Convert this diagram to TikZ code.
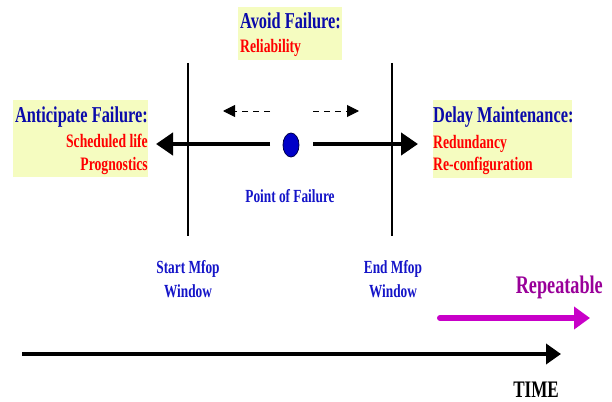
\documentclass[tikz,border=0pt]{standalone}
\usepackage{fontspec}
\setmainfont{Liberation Serif}[FakeStretch=0.72]
\usetikzlibrary{arrows.meta,shapes.geometric}
\definecolor{titleblue}{RGB}{10,10,170}
\definecolor{labelblue}{RGB}{20,20,200}
\definecolor{subred}{RGB}{255,0,0}
\definecolor{boxyellow}{RGB}{245,252,192}
\definecolor{reppurple}{RGB}{153,0,153}
\definecolor{repmagenta}{RGB}{200,0,200}
\definecolor{pofblue}{RGB}{0,0,200}
\begin{document}
\begin{tikzpicture}[x=1pt,y=-1pt,
  txt/.style={inner sep=0pt, font=\bfseries},
  title/.style={txt, text=titleblue, font=\bfseries\fontsize{22.7}{26}\selectfont},
  sub/.style={txt, text=subred, font=\bfseries\fontsize{19}{22}\selectfont},
  lbl/.style={txt, text=labelblue, font=\bfseries\fontsize{18.5}{21}\selectfont},
  ybox/.style={fill=boxyellow, draw=none, inner sep=0pt},
  window/.style={line width=1.4pt, black},
  dasharrow/.style={line width=1pt, dash pattern=on 6pt off 5pt, -{Triangle[length=12pt,width=12pt]}},
  thickarrow/.style={line width=4.5pt, -{Triangle[length=17pt,width=22pt]}},
]
\path[use as bounding box] (0,0) rectangle (612,401);

% yellow boxes
\node[ybox, minimum width=135pt, minimum height=77pt, anchor=north west] (antbox) at (13,100) {};
\node[ybox, minimum width=104pt, minimum height=53pt, anchor=north west] (avbox) at (238,7) {};
\node[ybox, minimum width=139pt, minimum height=78pt, anchor=north west] (delbox) at (433,100) {};

% box texts
\node[title, anchor=base east] (antt) at (148,122) {Anticipate Failure:};
\node[sub, anchor=base east] (ant1) at (148,147) {Scheduled life};
\node[sub, anchor=base east] (ant2) at (148,170) {Prognostics};

\node[title, anchor=base west] (avt) at (240,29) {Avoid Failure:};
\node[sub, anchor=base west] (av1) at (240,53) {Reliability};

\node[title, anchor=base west] (delt) at (433,122) {Delay Maintenance:};
\node[sub, anchor=base west] (del1) at (433,148) {Redundancy};
\node[sub, anchor=base west] (del2) at (433,170) {Re-configuration};

% window lines
\coordinate (ws1) at (188,63);
\coordinate (ws2) at (188,236);
\coordinate (we1) at (392,63);
\coordinate (we2) at (392,236);
\draw[window] (ws1) -- (ws2);
\draw[window] (we1) -- (we2);

% point of failure
\node[ellipse, minimum width=16pt, minimum height=24pt, inner sep=0pt, fill=pofblue, draw=black!70!blue, line width=0.8pt] (pof) at (291,145) {};
\node[lbl, anchor=base] (poft) at (290,202) {Point of Failure};

% dashed arrows
\coordinate (dl0) at (270,111);
\coordinate (dl1) at (223,111);
\coordinate (dr0) at (313,111);
\coordinate (dr1) at (359,111);
\draw[dasharrow] (dl0) -- (dl1);
\draw[dasharrow] (dr0) -- (dr1);

% thick arrows
\coordinate (tl0) at (270,144);
\coordinate (tl1) at (156,144);
\coordinate (tr0) at (313,144);
\coordinate (tr1) at (418,144);
\draw[thickarrow] (tl0) -- (tl1);
\draw[thickarrow] (tr0) -- (tr1);

% window labels
\node[lbl, anchor=base] (sm1) at (188,273) {Start Mfop};
\node[lbl, anchor=base] (sm2) at (188,297) {Window};
\node[lbl, anchor=base] (em1) at (393,273) {End Mfop};
\node[lbl, anchor=base] (em2) at (393,297) {Window};

% repeatable
\node[txt, text=reppurple, font=\bfseries\fontsize{25.3}{29}\selectfont, anchor=base east] (rep) at (603,293) {Repeatable};
\coordinate (rp0) at (440,318);
\coordinate (rp1) at (590,318);
\draw[repmagenta, line width=6pt, line cap=round, -{Triangle[length=16pt,width=22pt]}] (rp0) -- (rp1);

% time axis
\coordinate (t0) at (22,354);
\coordinate (t1) at (561,354);
\draw[black, line width=4pt, -{Triangle[length=15pt,width=20pt]}] (t0) -- (t1);
\node[txt, text=black, font=\bfseries\fontsize{23.7}{27}\selectfont, anchor=base] (time) at (536,397) {TIME};
\end{tikzpicture}
\end{document}
